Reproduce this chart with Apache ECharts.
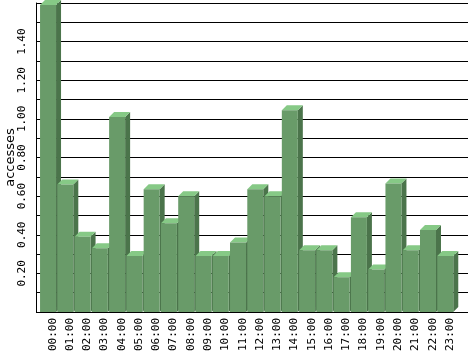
<!DOCTYPE html>
<html>
<head>
<meta charset="utf-8">
<script src="https://cdn.jsdelivr.net/npm/echarts@6/dist/echarts.min.js"></script>
<style>
  html, body { margin: 0; padding: 0; background: #fff; }
  #chart { width: 468px; height: 351px; }
</style>
</head>
<body>
<div id="chart"></div>
<script>
// hours of the day
const hours = ['00:00', '01:00', '02:00', '03:00', '04:00', '05:00', '06:00', '07:00',
  '08:00', '09:00', '10:00', '11:00', '12:00', '13:00', '14:00', '15:00',
  '16:00', '17:00', '18:00', '19:00', '20:00', '21:00', '22:00', '23:00']
// average accesses per hour
const accesses = [1.59, 0.66, 0.39, 0.33, 1.01, 0.29, 0.635, 0.46,
  0.60, 0.29, 0.29, 0.36, 0.635, 0.60, 1.045, 0.32,
  0.32, 0.18, 0.49, 0.22, 0.665, 0.32, 0.425, 0.29]
const yMax = 1.6
const yStep = 0.1

const FRONT = '#699b69', SIDE = '#4b744b', TOP = '#86c986'
const DEPTH = 5

const chart = echarts.init(document.getElementById('chart'))

// 3d-ish bar: front face, right side, top
const renderBar = (params, api) => {
  const base = api.coord([api.value(0), 0])
  const top = api.coord([api.value(0), api.value(1)])
  const x0 = base[0] - 12.7
  const x1 = base[0] + 3.3
  const y0 = base[1]
  const y1 = top[1]
  return {
    type: 'group',
    children: [
      { type: 'polygon', shape: { points: [[x1, y0], [x1 + DEPTH, y0 - DEPTH], [x1 + DEPTH, y1 - DEPTH], [x1, y1]] },
        style: { fill: SIDE } },
      { type: 'polygon', shape: { points: [[x0, y1], [x1, y1], [x1 + DEPTH, y1 - DEPTH], [x0 + DEPTH, y1 - DEPTH]] },
        style: { fill: TOP } },
      { type: 'rect', shape: { x: x0, y: y1, width: x1 - x0, height: y0 - y1 },
        style: { fill: FRONT } }
    ]
  }
}

const option = {
  backgroundColor: '#fff',
  animation: false,
  grid: [
    { left: 36, right: 0, top: 3, bottom: 39, outerBoundsMode: 'none' },
    { left: 44.1, right: 9.4, top: 3, bottom: 39, outerBoundsMode: 'none' }
  ],
  xAxis: [
    { gridIndex: 0, type: 'value', show: false, min: 0, max: 1 },
    {
      gridIndex: 1, type: 'category', data: hours,
      axisLine: { show: false }, axisTick: { show: false },
      axisLabel: { interval: 0, rotate: 90, margin: 6, color: '#000',
        fontFamily: 'DejaVu Sans Mono', fontSize: 11 }
    }
  ],
  yAxis: [
    {
      gridIndex: 0, type: 'value', min: 0, max: yMax, interval: yStep,
      name: 'accesses', nameLocation: 'middle', nameRotate: 90, nameGap: 19,
      nameMoveOverlap: false,
      nameTextStyle: { color: '#000', fontFamily: 'DejaVu Sans', fontSize: 13 },
      axisLine: { show: true, lineStyle: { color: '#000', width: 1 } },
      axisTick: { show: false },
      splitLine: { show: true, lineStyle: { color: '#000', width: 1 } },
      axisLabel: {
        rotate: 90, margin: 8, color: '#000', fontFamily: 'DejaVu Sans Mono', fontSize: 11,
        formatter: v => {
          const k = Math.round(v / yStep)
          return (k % 2 === 0 && k > 0 && k < 16) ? v.toFixed(2) : ''
        }
      }
    },
    { gridIndex: 1, type: 'value', min: 0, max: yMax, show: false }
  ],
  series: [
    {
      type: 'custom',
      xAxisIndex: 1,
      yAxisIndex: 1,
      renderItem: renderBar,
      data: hours.map((h, i) => [i, accesses[i]])
    }
  ]
}

chart.setOption(option)
</script>
</body>
</html>
